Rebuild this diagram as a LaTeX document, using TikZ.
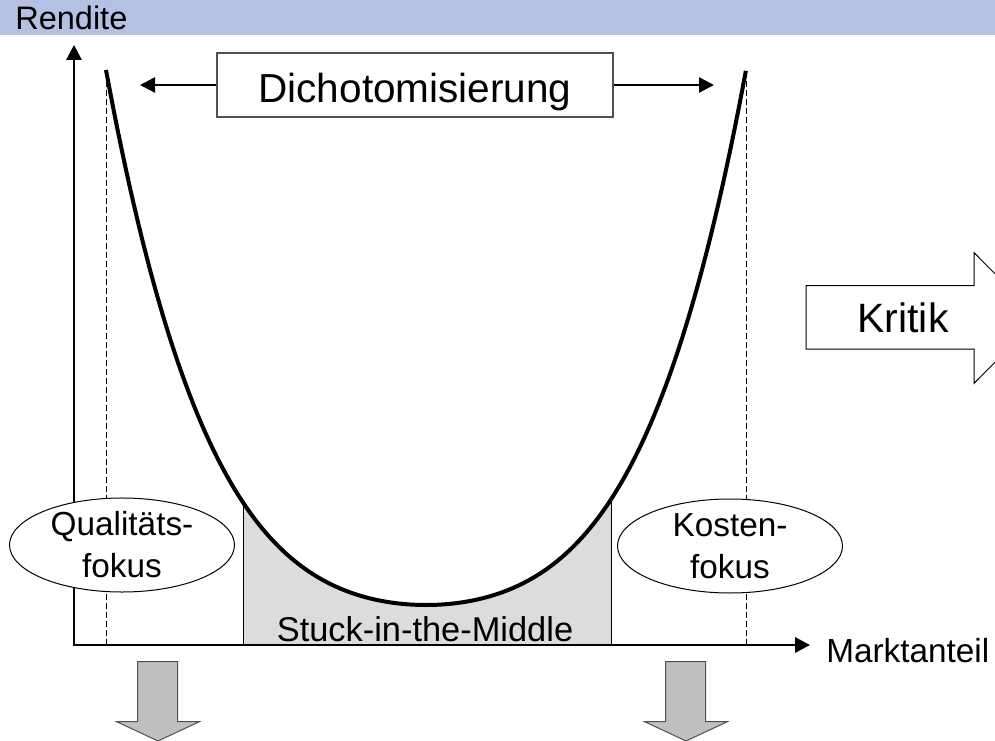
\documentclass[tikz,border=0pt]{standalone}
\usepackage{fontspec}
\setmainfont{Liberation Sans}
\usetikzlibrary{arrows.meta,shapes.geometric}
\definecolor{bandblue}{RGB}{180,193,228}
\definecolor{shadegray}{RGB}{220,220,220}
\definecolor{arrowgray}{RGB}{192,192,192}
\definecolor{edgegray}{RGB}{80,80,80}
\begin{document}
\begin{tikzpicture}[x=0.75pt,y=-0.75pt,
  bigtip/.style={-{Triangle[length=11.25pt,width=11.25pt]}},
  axisline/.style={line width=1.6pt,{Triangle[length=11.25pt,width=11.5pt]}-{Triangle[length=11.25pt,width=11.5pt]}},
  guide/.style={line width=0.75pt,dash pattern=on 4.5pt off 2.25pt},
  focus/.style={ellipse,draw,fill=white,line width=0.75pt,minimum width=168.75pt,minimum height=70.5pt,inner sep=0pt,align=center,font=\fontsize{25}{31.5}\selectfont},
  labeltext/.style={inner sep=0pt,font=\fontsize{25}{30}\selectfont},
  downarrow/.style={fill=arrowgray,draw=edgegray,line width=0.75pt}]
\useasboundingbox (0,0) rectangle (995,741);
\clip (0,0) rectangle (995,741);
% header band
\fill[bandblue] (0,0) rectangle (995,35);
\node[anchor=base west,inner sep=0pt,font=\fontsize{24.4}{28}\selectfont] (rendite) at (15,29.5) {Rendite};
% shaded region
\fill[shadegray] (243,645) -- plot[domain=-0.572:0.578,samples=60] ({426+320*\x},{605-206*\x*\x-329*\x*\x*\x*\x}) -- (611,645) -- cycle;
% dashed guides
\coordinate (gl0) at (106,645); \coordinate (gl1) at (106,70);
\coordinate (gr0) at (746,645); \coordinate (gr1) at (746,70);
\draw[guide] (gl0) -- (gl1);
\draw[guide] (gr0) -- (gr1);
% shaded edges
\coordinate (sl0) at (243,645); \coordinate (sl1) at (243,502.4);
\coordinate (sr0) at (611,645); \coordinate (sr1) at (611,499.5);
\draw[line width=0.75pt] (sl0) -- (sl1);
\draw[line width=0.75pt] (sr0) -- (sr1);
% axes
\coordinate (O) at (74,645);
\coordinate (ytip) at (74,45);
\coordinate (xtip) at (810,645);
\draw[axisline] (ytip) -- (O) -- (xtip);
\node[labeltext,anchor=base west] (markt) at (826,662) {Marktanteil};
% curve
\draw[line width=3pt] plot[domain=-1:1,samples=161] ({426+320*\x},{605-206*\x*\x-329*\x*\x*\x*\x});
\node[inner sep=0pt,anchor=base,font=\fontsize{25.8}{30}\selectfont] (stuck) at (425,641) {Stuck-in-the-Middle};
% ellipses
\node[focus] (qual) at (122,545) {Qualitäts-\\fokus};
\node[focus] (kost) at (730,546) {Kosten-\\fokus};
% Dichotomisierung
\node[draw=edgegray,line width=1.5pt,fill=white,minimum width=297pt,minimum height=48pt,inner sep=0pt] (dbox) at (415,85) {};
\node[anchor=base,inner sep=0pt,font=\fontsize{30.4}{36}\selectfont] (dtext) at (415,103) {Dichotomisierung};
\coordinate (dl) at (140,85);
\coordinate (dr) at (714,85);
\draw[line width=1.8pt,bigtip] (dbox.west) -- (dl);
\draw[line width=1.8pt,bigtip] (dbox.east) -- (dr);
% Kritik arrow
\draw[fill=white,draw=black,line width=0.75pt] (806,285.7) -- (974,285.7) -- (974,252.7) -- (1039,318) -- (974,383.3) -- (974,349) -- (806,349) -- cycle;
\node[anchor=base,inner sep=0pt,font=\fontsize{30.75}{36}\selectfont] (kritik) at (903,333) {Kritik};
% down arrows
\draw[downarrow] (137.7,661.7) -- (177.7,661.7) -- (177.7,721.7) -- (199.3,721.7) -- (158,741) -- (116.7,721.7) -- (137.7,721.7) -- cycle;
\draw[downarrow] (665.7,661.7) -- (705.7,661.7) -- (705.7,721.7) -- (727.3,721.7) -- (686,741) -- (644.7,721.7) -- (665.7,721.7) -- cycle;
\end{tikzpicture}
\end{document}
